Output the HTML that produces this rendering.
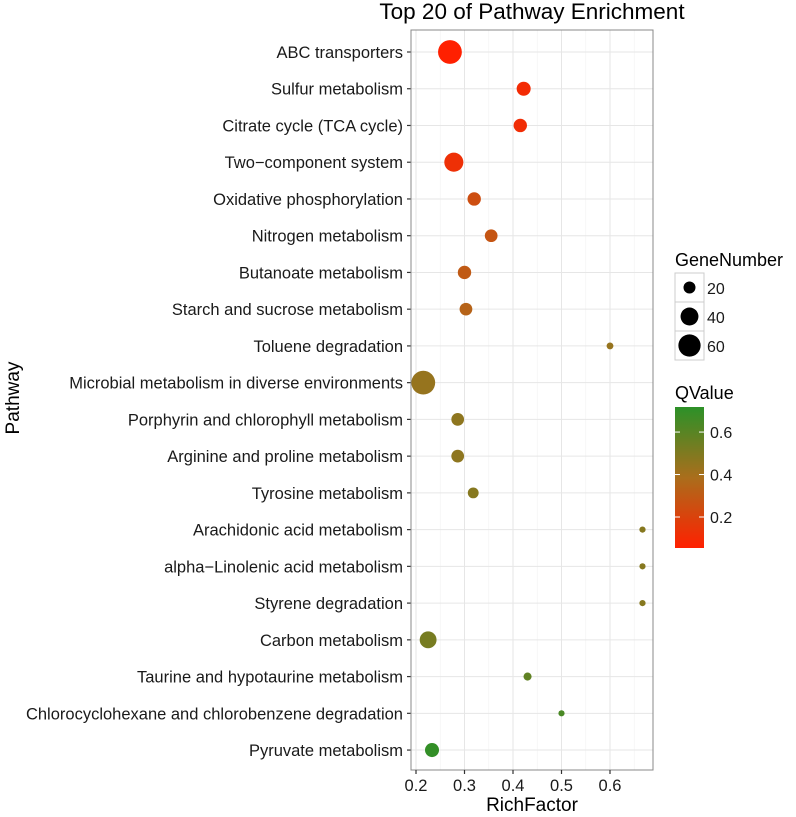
<!DOCTYPE html>
<html><head><meta charset="utf-8"><style>
body{margin:0;background:#fff;}
svg{display:block;font-family:"Liberation Sans",sans-serif;}
</style></head><body>
<svg id="chart" width="796" height="817"></svg>
<script>
const pathways=["ABC transporters","Sulfur metabolism","Citrate cycle (TCA cycle)","Two\u2212component system","Oxidative phosphorylation","Nitrogen metabolism","Butanoate metabolism","Starch and sucrose metabolism","Toluene degradation","Microbial metabolism in diverse environments","Porphyrin and chlorophyll metabolism","Arginine and proline metabolism","Tyrosine metabolism","Arachidonic acid metabolism","alpha\u2212Linolenic acid metabolism","Styrene degradation","Carbon metabolism","Taurine and hypotaurine metabolism","Chlorocyclohexane and chlorobenzene degradation","Pyruvate metabolism"];
const richFactor=[0.27,0.422,0.415,0.278,0.32,0.355,0.30,0.303,0.60,0.215,0.286,0.286,0.318,0.667,0.667,0.667,0.225,0.43,0.50,0.233];
const geneNumber=[68,26,24,45,24,22,24,22,9,68,22,22,17,8,8,8,36,11,8,26];
const qValue=[0.05,0.10,0.11,0.12,0.25,0.28,0.30,0.34,0.44,0.44,0.46,0.46,0.48,0.48,0.48,0.48,0.52,0.58,0.64,0.70];
const xTicks=[0.2,0.3,0.4,0.5,0.6];
const sizeLegend=[20,40,60];
const colorTicks=[0.2,0.4,0.6];

const NS="http://www.w3.org/2000/svg";
const svg=document.getElementById('chart');
function mk(tag,attrs,parent){const e=document.createElementNS(NS,tag);for(const k in attrs)e.setAttribute(k,attrs[k]);(parent||svg).appendChild(e);return e;}
const L=411,R=653,T=30,B=770;
const xs=v=>416+(v-0.2)*485;
const ys=i=>52+i*36.74;
const rs=n=>Math.sqrt(Math.max(2,2.2*n-8));
const qMin=0.054,qMax=0.718;
function col(q){
  const t=Math.max(0,Math.min(1,(q-qMin)/(qMax-qMin)));
  const st=[[255,32,0],[170,110,28],[44,145,40]];
  let a,b,u;if(t<0.5){a=st[0];b=st[1];u=t/0.5;}else{a=st[1];b=st[2];u=(t-0.5)/0.5;}
  return `rgb(${a.map((c,i)=>Math.round(c+(b[i]-c)*u)).join(',')})`;
}
let e=mk('text',{x:532,y:19,'text-anchor':'middle','font-size':22.5,fill:'#000'});e.textContent='Top 20 of Pathway Enrichment';


e=mk('rect',{x:L,y:T,width:R-L,height:B-T,fill:'#fff'});


for(let v=0.25;v<0.7;v+=0.1){const x=xs(v);mk('line',{x1:x,x2:x,y1:T,y2:B,stroke:'#f2f2f2','stroke-width':0.6});}
xTicks.forEach(v=>{const x=xs(v);e=mk('line',{x1:x,x2:x,y1:T,y2:B,stroke:'#e6e6e6','stroke-width':1});

});
pathways.forEach((p,i)=>{const y=ys(i);mk('line',{x1:L,x2:R,y1:y,y2:y,stroke:'#e6e6e6','stroke-width':1});
 mk('line',{x1:L-4,x2:L,y1:y,y2:y,stroke:'#333','stroke-width':1.2});
 e=mk('text',{x:L-8,y:y+6,'text-anchor':'end','font-size':16.5,fill:'#1a1a1a'});e.textContent=p;
 
 
});
mk('rect',{x:L,y:T,width:R-L,height:B-T,fill:'none',stroke:'#888','stroke-width':1});
xTicks.forEach(v=>{const x=xs(v);mk('line',{x1:x,x2:x,y1:B,y2:B+4,stroke:'#333','stroke-width':1.2});
 e=mk('text',{x:x,y:B+21,'text-anchor':'middle','font-size':16.5,fill:'#1a1a1a'});e.textContent=v.toFixed(1);
 
 });
e=mk('text',{x:532,y:811,'text-anchor':'middle','font-size':19,fill:'#000'});e.textContent='RichFactor';


e=mk('text',{x:0,y:0,'text-anchor':'middle','font-size':19,fill:'#000',transform:'translate(19,398) rotate(-90)'});e.textContent='Pathway';


pathways.forEach((p,i)=>{e=mk('circle',{cx:xs(richFactor[i]),cy:ys(i),r:rs(geneNumber[i]),fill:col(qValue[i])});
 
 });
e=mk('text',{x:675,y:266,'font-size':18,fill:'#000'});e.textContent='GeneNumber';


sizeLegend.forEach((n,i)=>{const y=273+i*29;
 mk('rect',{x:675,y:y,width:29,height:29,fill:'#fff',stroke:'#ccc','stroke-width':1});
 e=mk('circle',{cx:689.5,cy:y+14.5,r:rs(n),fill:'#000'});
 
 
 e=mk('text',{x:707,y:y+21,'font-size':16,fill:'#1a1a1a'});e.textContent=n;
 
 });
e=mk('text',{x:675,y:399,'font-size':18,fill:'#000'});e.textContent='QValue';


const defs=mk('defs',{});const g=mk('linearGradient',{id:'qg',x1:0,y1:1,x2:0,y2:0},defs);
for(let k=0;k<=10;k++){const q=qMin+(qMax-qMin)*k/10;mk('stop',{offset:k/10,'stop-color':col(q)},g);}
const cT=407,cB=548;const cy=q=>cB-(q-qMin)/(qMax-qMin)*(cB-cT);
e=mk('rect',{x:675,y:cT,width:29,height:cB-cT,fill:'url(#qg)'});


colorTicks.forEach(q=>{const y=cy(q);
 mk('line',{x1:675,x2:680,y1:y,y2:y,stroke:'#fff','stroke-width':1});
 mk('line',{x1:699,x2:704,y1:y,y2:y,stroke:'#fff','stroke-width':1});
 e=mk('text',{x:710,y:y+6,'font-size':16,fill:'#1a1a1a'});e.textContent=q.toFixed(1);
 
 });
</script>
</body></html>
